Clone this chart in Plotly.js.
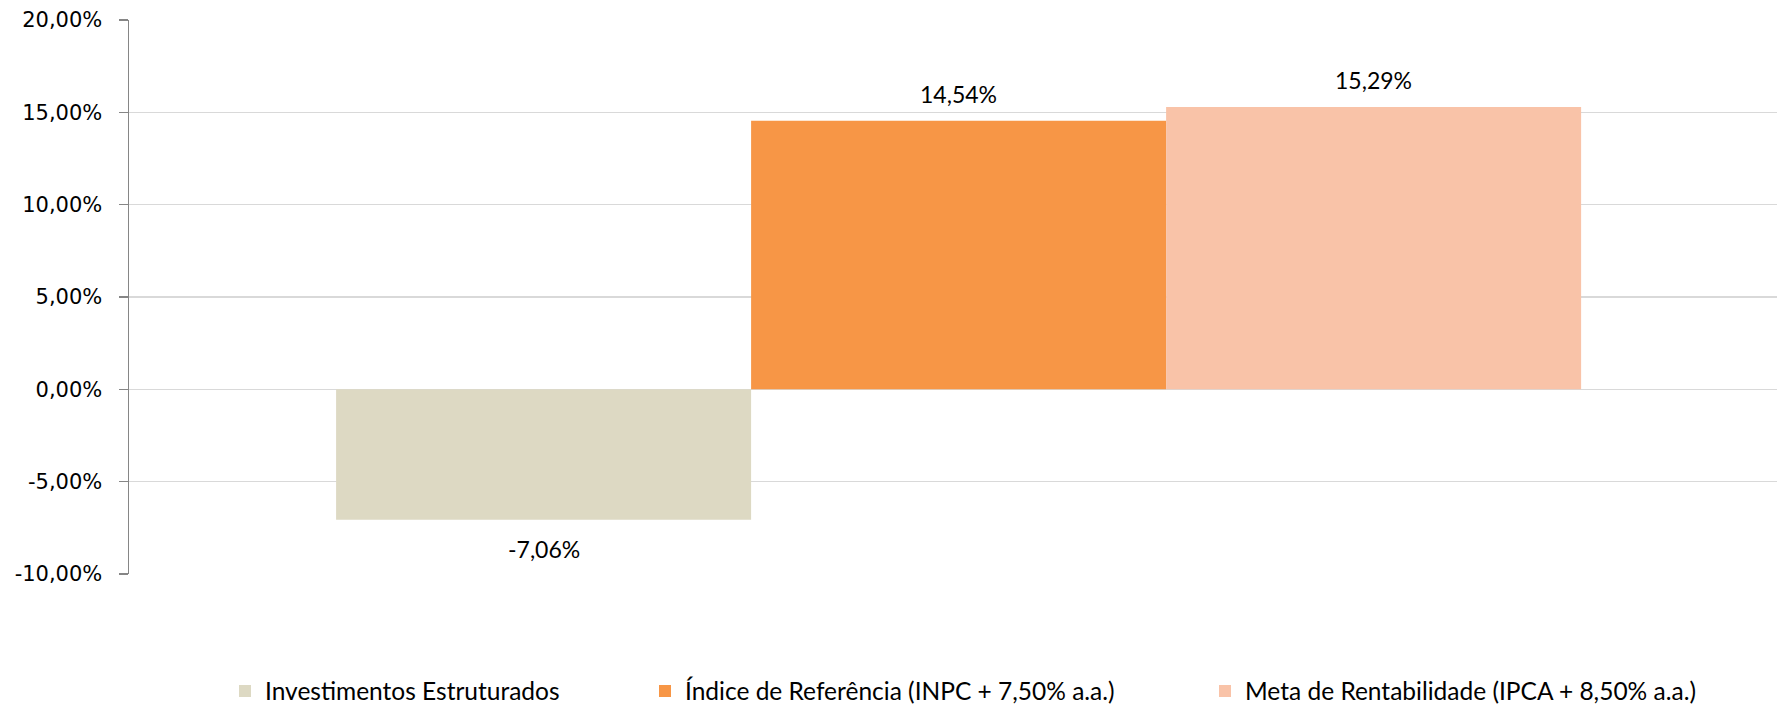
<!DOCTYPE html>
<html>
<head>
<meta charset="utf-8">
<script src="https://cdn.plot.ly/plotly-3.0.1.min.js"></script>
<style>html,body{margin:0;padding:0;background:#fff;}#chart{width:1777px;height:707px;}</style>
</head>
<body>
<div id="chart"></div>
<script>
const seriesNames = ["Investimentos Estruturados", "Índice de Referência (INPC + 7,50% a.a.)", "Meta de Rentabilidade (IPCA + 8,50% a.a.)"];
const seriesValues = [-7.06, 14.54, 15.29];
const seriesColors = ["#DDD9C3", "#F79646", "#F9C3A8"];
const yTickValues = [-10, -5, 0, 5, 10, 15, 20];
const yTickLabels = ["-10,00%", "-5,00%", "0,00%", "5,00%", "10,00%", "15,00%", "20,00%"];

const legendTextStart = [263, 683, 1243];
const W = 1777, H = 707;

const traces = seriesNames.map((name, i) => ({
  type: "bar",
  name: name,
  x: [i],
  y: [seriesValues[i]],
  width: 1,
  marker: {color: seriesColors[i], line: {width: 0}},
  hoverinfo: "skip",
  legend: i === 0 ? "legend" : "legend" + (i + 1)
}));

const annotations = seriesNames.map((name, i) => ({
  x: i,
  y: seriesValues[i],
  xref: "x", yref: "y",
  text: seriesValues[i].toFixed(2).replace(".", ",") + "%",
  showarrow: false,
  yanchor: "middle",
  yshift: seriesValues[i] >= 0 ? 27 : -29,
  font: {family: "Lato", size: 23, color: "#000"}
}));

function legendCfg(i) {
  return {
    orientation: "h",
    xref: "container", yref: "container",
    x: (legendTextStart[i] - 38) / W,
    xanchor: "left",
    y: 16 / H,
    yanchor: "middle",
    bgcolor: "rgba(0,0,0,0)",
    font: {family: "Lato", size: 24.5, color: "#000"},
    itemclick: false, itemdoubleclick: false
  };
}

const layout = {
  width: W, height: H,
  margin: {l: 129, r: 0, t: 20, b: 133, pad: 0},
  paper_bgcolor: "#fff",
  plot_bgcolor: "#fff",
  barmode: "overlay",
  showlegend: true,
  legend: legendCfg(0),
  legend2: legendCfg(1),
  legend3: legendCfg(2),
  xaxis: {
    range: [-0.999, 2.972],
    showgrid: false, zeroline: false, showticklabels: false,
    showline: false, ticks: "", fixedrange: true
  },
  yaxis: {
    range: [-10, 20],
    tickmode: "array",
    tickvals: yTickValues,
    ticktext: yTickLabels,
    showgrid: true, gridcolor: "#D9D9D9", gridwidth: 1.5,
    zeroline: false,
    showline: true, linecolor: "#868686", linewidth: 1.5,
    ticks: "outside", ticklen: 9, tickwidth: 1.5, tickcolor: "#868686",
    ticklabelstandoff: 12,
    tickfont: {family: "DejaVu Sans", size: 21, color: "#000"},
    fixedrange: true
  },
  annotations: annotations
};

Plotly.newPlot("chart", traces, layout, {displayModeBar: false, staticPlot: true});
</script>
</body>
</html>
